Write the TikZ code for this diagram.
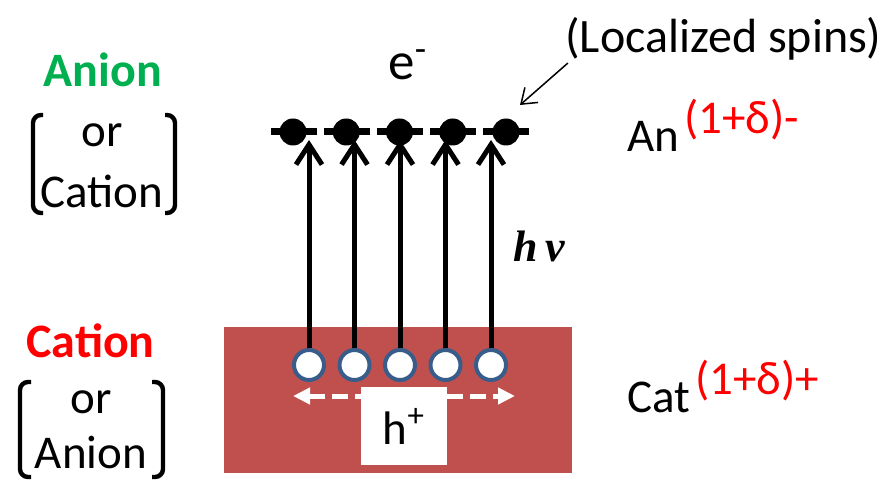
\documentclass[tikz,border=0pt]{standalone}
\usepackage{fontspec}
\setmainfont{Carlito}
\newfontfamily\photonfont{Liberation Serif}
\usepackage{tikz}
\usetikzlibrary{arrows.meta,positioning}
\definecolor{slabred}{HTML}{C0504D}
\definecolor{ringblue}{HTML}{385D8A}
\definecolor{aniongreen}{HTML}{00B050}

\begin{document}
\begin{tikzpicture}[x=0.5pt, y=-0.5pt, every node/.style={inner sep=0pt, font=\fontsize{23.5}{28}\selectfont}]
  % Style definitions
  \tikzstyle{ion} = [font=\fontsize{24}{28}\selectfont\bfseries]
  \tikzstyle{brk} = [line width=2.2pt, rounded corners=4pt]
  \tikzstyle{hole} = [circle, draw=ringblue, fill=white, line width=2pt, minimum size=15pt]
  \tikzstyle{spin} = [circle, fill=black, minimum size=13.5pt]
  \tikzstyle{excite} = [line width=2.5pt, -{Straight Barb[length=10pt,width=13pt]}]
  \tikzstyle{charge} = [font=\fontsize{23.5}{28}\selectfont, text=red]
  \useasboundingbox (0,0) rectangle (886,480);

  % Left labels
  \node (anion) [ion, text=aniongreen, anchor=base] at (103,87) {Anion};
  \node (or1) [anchor=base] at (102,147) {or};
  \node (cation1) [below=30.5pt of or1.base, anchor=base] {Cation};
  \node (cation) [ion, text=red, anchor=base] at (90.5,357) {Cation};
  \node (or2) [anchor=base] at (91,413) {or};
  \node (anion2) [below=27.5pt of or2.base, anchor=base] {Anion};
  \draw[brk] (43,115) -- (33,115) -- (33,213) -- (43,213);
  \draw[brk] (165,115) -- (175,115) -- (175,213) -- (165,213);
  \draw[brk] (31,382) -- (20,382) -- (20,477) -- (31,477);
  \draw[brk] (152,382) -- (163,382) -- (163,477) -- (152,477);

  % Slab with holes
  \fill[slabred] (224,327) rectangle (572,473);
  \coordinate (hl) at (293,396);
  \coordinate (hr) at (515,396);
  \draw[white, line width=2.5pt, dash pattern=on 8pt off 3.5pt, {Triangle[length=8.5pt,width=8pt]}-{Triangle[length=8.5pt,width=8pt]}] (hl) -- (hr);
  \node (hbox) [fill=white, minimum width=43pt, minimum height=39pt] at (404,426) {h\textsuperscript{+}};

  % Holes and spins
  \foreach \i in {1,...,5} {
    \node (h\i) [hole] at (263.5+45.5*\i,365) {};
    \node (e\i) [spin] at (239.75+53.25*\i,132) {};
  }
  \draw[line width=3.5pt, dash pattern=on 23pt off 3.5pt] ([xshift=-11pt]e1.center) -- ([xshift=12pt]e5.center);

  % Arrows
  \foreach \i in {1,...,5}
    \draw[excite, shorten >=4pt] (h\i.north) -- (h\i |- e\i);

  % Top and right labels
  \node (elec) [anchor=base west, font=\fontsize{26.5}{30}\selectfont] at (388,80) {e\textsuperscript{-}};
  \node (spins) [anchor=base, font=\fontsize{24}{29}\selectfont] at (723.5,53) {(Localized spins)};
  \draw[line width=0.75pt, -{Straight Barb[length=7pt,width=10pt]}] ([xshift=1.5pt,yshift=-5pt]spins.base west) -- ([xshift=7pt,yshift=13.5pt]e5.center);
  \node (hv) [anchor=base west, font=\photonfont\fontsize{22}{26}\selectfont\bfseries\itshape] at (513,262) {h\,ν};
  \node (an) [anchor=base west] at (627,152) {An};
  \node (anq) [charge, right=2pt of an.base east, anchor=base west, yshift=9pt] {(1+δ)-};
  \node (cat) [anchor=base west] at (627,412) {Cat};
  \node (catq) [charge, right=2pt of cat.base east, anchor=base west, yshift=9pt] {(1+δ)+};
\end{tikzpicture}
\end{document}
